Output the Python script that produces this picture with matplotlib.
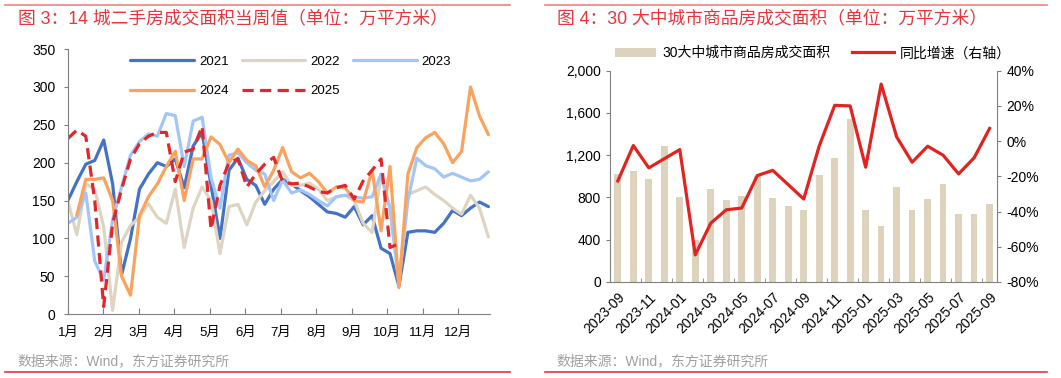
import numpy as np
import matplotlib.pyplot as plt
from matplotlib.lines import Line2D
from matplotlib.ticker import FuncFormatter

plt.rcParams['font.family'] = ['Liberation Sans', 'Noto Sans CJK SC']
plt.rcParams['axes.unicode_minus'] = False

# ---- left panel: 14-city weekly second-hand transactions (quarter-month steps) ----
months = ['1月', '2月', '3月', '4月', '5月', '6月', '7月', '8月', '9月', '10月', '11月', '12月']
nan = np.nan
s2021 = [150, 175, 198, 203, 230, 172, 52, 100, 165, 185, 200, 195,
         205, 167, 222, 240, 170, 100, 190, 206, 178, 170, 145, 165,
         178, 172, 163, 155, 145, 135, 133, 128, 142, 118, 130, 87,
         80, 37, 108, 110, 110, 108, 120, 137, 130, 140, 148, 142]
s2022 = [149, 105, 172, 165, 115, 5, 95, 117, 128, 146, 128, 120,
         165, 88, 140, 168, 150, 80, 142, 145, 118, 148, 163, 175,
         188, 170, 170, 173, 165, 150, 155, 157, 150, 120, 108, 183,
         140, 40, 158, 163, 168, 158, 150, 140, 132, 157, 140, 102]
s2023 = [120, 128, 160, 70, 45, 125, 168, 210, 228, 238, 235, 265,
         262, 195, 255, 260, 180, 140, 210, 213, 200, 190, 185, 150,
         177, 160, 164, 158, 150, 143, 155, 157, 155, 153, 155, 185,
         140, 45, 150, 206, 196, 192, 181, 186, 181, 176, 178, 188]
s2024 = [nan, 131, 178, 178, 180, 150, 50, 25, 130, 155, 172, 195,
         215, 150, 205, 205, 234, 224, 200, 218, 203, 196, 168, 190,
         220, 188, 180, 186, 175, 160, 168, 167, 150, 148, 190, 110,
         195, 35, 185, 220, 233, 240, 225, 200, 215, 300, 262, 237]
s2025 = [232, 243, 235, 150, 10, 120, 165, 205, 225, 235, 240, 240,
         175, 214, 218, 248, 112, 170, 200, 205, 168, 185, 198, 207,
         175, 172, 173, 168, 162, 160, 167, 170, 152, 176, 190, 205,
         88, 93, nan, nan, nan, nan, nan, nan, nan, nan, nan, nan]

# ---- right panel: 30 large/mid cities monthly ----
ym = ['2023-09', '2023-10', '2023-11', '2023-12', '2024-01', '2024-02', '2024-03',
      '2024-04', '2024-05', '2024-06', '2024-07', '2024-08', '2024-09', '2024-10',
      '2024-11', '2024-12', '2025-01', '2025-02', '2025-03', '2025-04', '2025-05',
      '2025-06', '2025-07', '2025-08', '2025-09']
area = [1020, 1050, 975, 1285, 805, 400, 880, 775, 815, 1005, 795, 718, 685,
        1008, 1172, 1545, 685, 530, 900, 685, 790, 925, 648, 648, 735]
yoy = [-22.6, -2.5, -15.2, -10.0, -4.8, -64.6, -46.6, -39.0, -38.0, -19.6, -16.6,
       -24.7, -32.9, -2.8, 20.3, 20.0, -14.8, 32.4, 2.4, -12.0, -2.9, -8.0, -18.6,
       -9.5, 7.2]

c21, c22, c23, c24, c25 = '#4472C4', '#DDD5C2', '#A3C6FA', '#FBA25E', '#E3262A'
red = '#E8353A'
grey = '#808080'

fig = plt.figure(figsize=(10.61, 3.78), dpi=100)

# frame lines, titles, sources
for x0, x1 in [(0.005, 0.481), (0.514, 0.987)]:
    fig.add_artist(Line2D([x0, x1], [0.986, 0.986], color='#F08080', lw=1.2))
    fig.add_artist(Line2D([x0, x1], [0.016, 0.016], color=red, lw=1.2))
fig.text(0.017, 0.948, '图 3：14 城二手房成交面积当周值（单位：万平方米）', color=red,
         fontsize=12.8, va='center')
fig.text(0.525, 0.948, '图 4：30 大中城市商品房成交面积（单位：万平方米）', color=red,
         fontsize=12.8, va='center')
fig.text(0.016, 0.043, '数据来源：Wind，东方证券研究所', color='#A0A0A0', fontsize=10, va='center')
fig.text(0.524, 0.043, '数据来源：Wind，东方证券研究所', color='#A0A0A0', fontsize=10, va='center')

# left chart
ax = fig.add_axes([0.064, 0.169, 0.398, 0.701])
x = np.linspace(0, 11.85, len(s2021))
kw = dict(lw=2.3, solid_joinstyle='round', solid_capstyle='round')
l21, = ax.plot(x, s2021, color=c21, label='2021', **kw)
l22, = ax.plot(x, s2022, color=c22, label='2022', **kw)
l23, = ax.plot(x, s2023, color=c23, label='2023', **kw)
l24, = ax.plot(x, s2024, color=c24, label='2024', **kw)
l25, = ax.plot(x, s2025, color=c25, label='2025', lw=2.3, linestyle=(0, (3.5, 2)))
ax.set_xlim(0, 11.9)
ax.set_ylim(0, 350)
ax.set_yticks(range(0, 351, 50))
ax.set_xticks(range(12))
ax.set_xticklabels(months)
for s in ['top', 'right']:
    ax.spines[s].set_visible(False)
for s in ['left', 'bottom']:
    ax.spines[s].set_color(grey)
ax.tick_params(axis='y', direction='out', length=3, color=grey, labelsize=10, pad=6)
ax.tick_params(axis='x', direction='in', length=4, color=grey, labelsize=9.5, pad=9)
# column-wise fill -> reorder so rows read 2021 2022 2023 / 2024 2025
hs = [l21, l24, l22, l25, l23]
ax.legend(hs, [h.get_label() for h in hs], ncol=3, loc='upper left',
          bbox_to_anchor=(0.12, 1.02), frameon=False, fontsize=9.5, handlelength=4.8,
          labelspacing=1.3, columnspacing=1.0, handletextpad=0.4)

# right chart
ax2 = fig.add_axes([0.575, 0.254, 0.365, 0.559])
pos = np.arange(len(ym))
ax2.bar(pos, area, width=0.43, color='#DDD3BC', label='30大中城市商品房成交面积')
ax2.set_ylim(0, 2000)
ax2.set_yticks(range(0, 2001, 400))
ax2.yaxis.set_major_formatter(FuncFormatter(lambda v, p: f'{int(v):,}'))
ax2.set_xlim(-0.45, len(ym) - 0.5)
ax2.set_xticks(pos[::2])
ax2.set_xticklabels(ym[::2], rotation=45, ha='right', rotation_mode='anchor')
ax2.set_xticks(pos[::2] - 0.5, minor=True)
ax2.tick_params(axis='x', which='major', length=0, labelsize=10, pad=6)
ax2.tick_params(axis='x', which='minor', direction='in', length=3, color=grey)
ax2.tick_params(axis='y', direction='out', length=3, color=grey, labelsize=10)
for s in ['top', 'right']:
    ax2.spines[s].set_visible(False)
for s in ['left', 'bottom']:
    ax2.spines[s].set_color(grey)

ax3 = ax2.twinx()
ax3.plot(pos, yoy, color='#E3231F', lw=2.3, label='同比增速（右轴）')
ax3.set_ylim(-80, 40)
ax3.set_yticks(range(-80, 41, 20))
ax3.yaxis.set_major_formatter(FuncFormatter(lambda v, p: f'{int(v)}%'))
ax3.tick_params(axis='y', direction='out', length=3, color=grey, labelsize=10)
for s in ['top', 'left', 'bottom']:
    ax3.spines[s].set_visible(False)
ax3.spines['right'].set_color(grey)

h1, l1 = ax2.get_legend_handles_labels()
h2, l2 = ax3.get_legend_handles_labels()
ax3.legend(h1 + h2, l1 + l2, ncol=2, loc='lower left', bbox_to_anchor=(-0.02, 0.99),
           frameon=False, fontsize=10, handlelength=3.0, columnspacing=1.6,
           handletextpad=0.4)

fig.savefig('out.png', dpi=100)
